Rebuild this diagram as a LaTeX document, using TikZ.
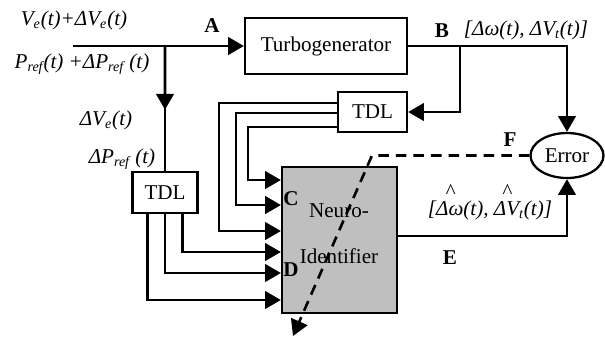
\documentclass[tikz,border=0pt]{standalone}
\usepackage{fontspec}
\setmainfont{Liberation Serif}
\usetikzlibrary{arrows.meta,calc,shapes.geometric}
\tikzset{
  identBlock/.style={draw, line width=1.3pt, fill=white, align=center, font=\fontsize{12}{14}\selectfont, inner sep=2pt},
  identLine/.style={line width=1.5pt},
  identArrow/.style={line width=1.5pt, -{Triangle[length=9pt,width=10pt]}},
  identDashed/.style={line width=1.5pt, dash pattern=on 6pt off 4pt, -{Triangle[length=9pt,width=10pt]}},
  identTag/.style={font=\fontsize{12}{14}\selectfont\bfseries, inner sep=0pt},
  identSignal/.style={font=\fontsize{12}{14}\selectfont\itshape, inner sep=0pt}
}
\newcommand{\sighat}[1]{\leavevmode\setbox0\hbox{#1}\rlap{\hbox to\wd0{\hss\raisebox{0.8em}{\textasciicircum}\hss}}#1}

\begin{document}
\begin{tikzpicture}[x=0.02cm, y=-0.02cm]
      \useasboundingbox (0,0) rectangle (605,339);
      \node[identBlock, minimum width=3.24cm, minimum height=1.12cm] (turbo) at (326,46) {Turbogenerator};
      \node[identBlock, minimum width=1.38cm, minimum height=0.8cm] (tdlB) at (372.5,112) {TDL};
      \node[identBlock, minimum width=1.3cm, minimum height=0.82cm] (tdlA) at (165,192.5) {TDL};
      \node[identBlock, fill=black!25, minimum width=2.3cm, minimum height=2.92cm] (neuro) at (339.5,240) {};
      \node[identBlock, ellipse, minimum width=1.46cm, minimum height=0.9cm, inner sep=0pt] (error) at (567,155.5) {Error};
      \coordinate (in) at (73,46);
      \coordinate (split) at (165,46);
      \coordinate (outB) at (460,46);
      \coordinate (fcorner) at (372,155.5);
      \coordinate (fend) at (293,336);

      \draw[identArrow] (in) -- (turbo.west);
      \draw[identLine] (split) -- (tdlA.north);
      \draw[identArrow] (split) -- ($(split)!0.51!(tdlA.north)$);
      \draw[identArrow] (turbo.east) -| (error.north);
      \draw[identArrow] (outB) |- (tdlB.east);
      \draw[identArrow] ([yshift=0.18cm]tdlB.west) -- ++(-118,0) |- ([yshift=0.18cm]neuro.west);
      \draw[identArrow] ([yshift=-0.02cm]tdlB.west) -- ++(-101,0) |- ([yshift=0.7cm]neuro.west);
      \draw[identArrow] ([yshift=-0.3cm]tdlB.west) -- ++(-89,0) |- ([yshift=1.2cm]neuro.west);
      \draw[identArrow] ([xshift=0.35cm]tdlA.south) |- ([yshift=-0.24cm]neuro.west);
      \draw[identArrow] (tdlA.south) |- ([yshift=-0.66cm]neuro.west);
      \draw[identArrow] ([xshift=-0.35cm]tdlA.south) |- ([yshift=-1.2cm]neuro.west);
      \draw[identArrow] ([yshift=0.08cm]neuro.east) -| (error.south);

      \node[align=center, font=\fontsize{12}{14}\selectfont] (neurotext) at (339,234) {Neuro-\\[12pt]Identifier};
      \draw[identDashed] (error.west) -- (fcorner) -- (fend);

      \node[identSignal, anchor=base] (vin) at (74,25) {V\textsubscript{e}(t)+ΔV\textsubscript{e}(t)};
      \node[identSignal, anchor=base] (pin) at (82,68) {P\textsubscript{ref}(t) +ΔP\textsubscript{ref} (t)};
      \node[identSignal, anchor=base] (yout) at (526,35) {[Δω(t), ΔV\textsubscript{t}(t)]};
      \node[identSignal, anchor=base] (dve) at (106,125) {ΔV\textsubscript{e}(t)};
      \node[identSignal, anchor=base] (dpref) at (122,163) {ΔP\textsubscript{ref} (t)};
      \node[identSignal, anchor=base] (yhat) at (490,215) {[\sighat{Δω}(t), \sighat{ΔV}\textsubscript{t}(t)]};
      \node[identTag] (tagA) at (212,26) {A};
      \node[identTag] (tagB) at (442,31) {B};
      \node[identTag] (tagC) at (291,199) {C};
      \node[identTag] (tagD) at (291,270) {D};
      \node[identTag] (tagE) at (450,258) {E};
      \node[identTag] (tagF) at (510,140) {F};
    \end{tikzpicture}
\end{document}
